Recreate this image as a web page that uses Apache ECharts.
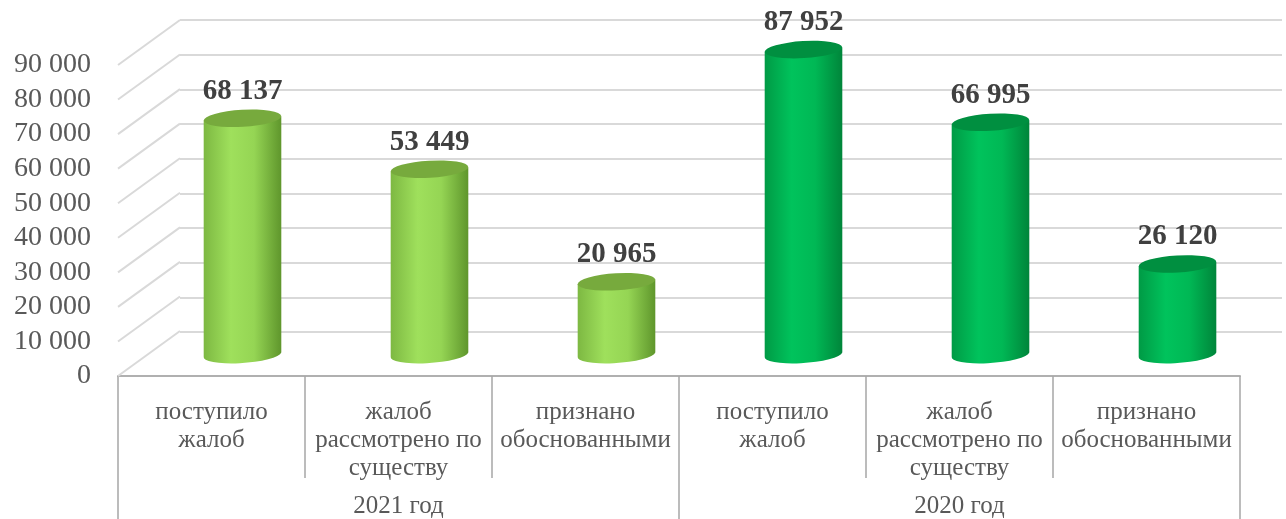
<!DOCTYPE html>
<html>
<head>
<meta charset="utf-8">
<script src="https://cdn.jsdelivr.net/npm/echarts@6/dist/echarts.min.js"></script>
<style>
  html, body { margin: 0; padding: 0; background: #fff; }
  #chart { width: 1286px; height: 519px; }
</style>
</head>
<body>
<div id="chart"></div>
<script>
// подкатегории и группы по годам
const subCats = ['поступило\nжалоб', 'жалоб\nрассмотрено по\nсуществу', 'признано\nобоснованными'];
const groups = ['2021 год', '2020 год'];
const values2021 = [68137, 53449, 20965];
const values2020 = [87952, 66995, 26120];
const yTicks = [0, 10000, 20000, 30000, 40000, 50000, 60000, 70000, 80000, 90000];

const categories = subCats.concat(subCats);
const FONT = '"Liberation Serif", "Times New Roman", serif';
const DEPTH_X = 62, DEPTH_Y = -45;   // сдвиг задней стенки (псевдо-3D)

function fmt(v) {
  return String(v).replace(/\B(?=(\d{3})+(?!\d))/g, ' ');
}

// цилиндр: тело с горизонтальным градиентом + верхний эллипс + подпись
function cylinder(colors) {
  return function (params, api) {
    const x = api.value(0), v = api.value(1);
    const top = api.coord([x, v]);
    const base = api.coord([x, 0]);
    const w = api.size([1, 0])[0] * 0.415;
    const rx = w / 2, ry = 8.5;
    const x0 = top[0] - rx, x1 = top[0] + rx;
    const body = 'M' + x0 + ' ' + (top[1] + 2) + ' L' + x0 + ' ' + (base[1] + 2) +
      ' A' + rx + ' ' + ry + ' -4 0 0 ' + x1 + ' ' + (base[1] - 2) +
      ' L' + x1 + ' ' + (top[1] - 2) + ' Z';
    return {
      type: 'group',
      children: [
        {
          type: 'path',
          shape: { pathData: body },
          style: {
            fill: new echarts.graphic.LinearGradient(0, 0, 1, 0, [
              { offset: 0, color: colors.edgeL },
              { offset: 0.35, color: colors.light },
              { offset: 0.65, color: colors.mid },
              { offset: 1, color: colors.edgeR }
            ])
          }
        },
        {
          type: 'circle',
          shape: { cx: 0, cy: 0, r: rx },
          x: top[0], y: top[1],
          scaleY: ry / rx,
          rotation: 0.06,
          style: { fill: colors.top }
        },
        {
          type: 'text',
          x: top[0], y: top[1] - ry - 4,
          style: {
            text: fmt(v),
            font: 'bold 29px ' + FONT,
            fill: '#404040',
            align: 'center',
            verticalAlign: 'bottom'
          }
        }
      ]
    };
  };
}

const lightGreen = { edgeL: '#7db842', light: '#9fe05c', mid: '#95d554', edgeR: '#5f962c', top: '#77aa3d' };
const darkGreen = { edgeL: '#009a45', light: '#00c35c', mid: '#00b855', edgeR: '#00853a', top: '#008f40' };

const chart = echarts.init(document.getElementById('chart'));
chart.setOption({
  animation: false,
  grid: [
    { left: 118, right: 46, top: 65, bottom: 142 },          // передняя плоскость (оси)
    { left: 149, right: 15, top: 42.5, bottom: 164.5 },      // середина (цилиндры)
    { left: 180, right: 4, top: 20, bottom: 187 }            // задняя стенка (сетка)
  ],
  xAxis: [
    {
      gridIndex: 0, type: 'category', data: categories, position: 'bottom',
      axisLine: { lineStyle: { color: '#b0b0b0', width: 2 } },
      axisTick: { show: true, interval: 0, length: 102, lineStyle: { color: '#a6a6a6', width: 1.5 } },
      axisLabel: { interval: 0, margin: 22, color: '#595959', fontSize: 25, lineHeight: 28, fontFamily: FONT }
    },
    {
      gridIndex: 0, type: 'category', data: groups, position: 'bottom', offset: 0,
      axisLine: { show: false },
      axisTick: { show: true, interval: 0, length: 150, lineStyle: { color: '#a6a6a6', width: 1.5 } },
      axisLabel: { interval: 0, margin: 118, color: '#595959', fontSize: 25, fontFamily: FONT }
    },
    { gridIndex: 1, type: 'category', data: categories, show: false },
    { gridIndex: 2, type: 'category', data: categories, show: false }
  ],
  yAxis: [
    {
      gridIndex: 0, type: 'value', min: 0, max: 90000, interval: 10000,
      axisLine: { show: false }, axisTick: { show: false }, splitLine: { show: false },
      axisLabel: { margin: 27, color: '#595959', fontSize: 28, fontFamily: FONT, formatter: fmt }
    },
    { gridIndex: 1, type: 'value', min: 0, max: 90000, interval: 10000, show: false },
    {
      gridIndex: 2, type: 'value', min: 0, max: 90000, interval: 10000,
      axisLine: { show: false }, axisTick: { show: false }, axisLabel: { show: false },
      splitLine: { show: true, lineStyle: { color: '#d9d9d9', width: 2 } }
    }
  ],
  series: [
    {
      // наклонные линии боковой стенки
      type: 'custom', xAxisIndex: 0, yAxisIndex: 0, silent: true, z: 1,
      data: yTicks.map(v => [0, v]),
      renderItem: function (params, api) {
        const y = api.coord([0, api.value(1)])[1];
        const x0 = params.coordSys.x;
        return {
          type: 'line',
          shape: { x1: x0, y1: y, x2: x0 + DEPTH_X, y2: y + DEPTH_Y },
          style: { stroke: '#d9d9d9', lineWidth: 2 }
        };
      }
    },
    {
      name: groups[0], type: 'custom', xAxisIndex: 2, yAxisIndex: 1, z: 3,
      data: values2021.map((v, i) => [i, v]),
      renderItem: cylinder(lightGreen)
    },
    {
      name: groups[1], type: 'custom', xAxisIndex: 2, yAxisIndex: 1, z: 3,
      data: values2020.map((v, i) => [i + 3, v]),
      renderItem: cylinder(darkGreen)
    }
  ]
});
</script>
</body>
</html>
